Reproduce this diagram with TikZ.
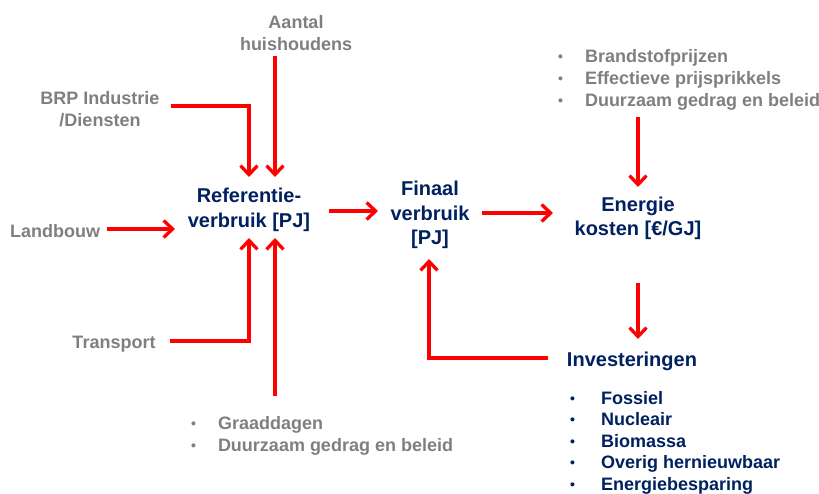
\documentclass[tikz,border=0pt]{standalone}
\usepackage{fontspec}
\setmainfont{Liberation Sans}
\usetikzlibrary{arrows.meta,calc}
\definecolor{txtgray}{RGB}{127,127,127}
\definecolor{navy}{RGB}{0,32,96}
\definecolor{flowred}{RGB}{255,0,0}
\tikzset{
  driver/.style={text=txtgray, font=\bfseries\fontsize{18}{22}\selectfont, align=center, inner sep=0pt, outer sep=0pt},
  quantity/.style={text=navy, font=\bfseries\fontsize{20}{24.5}\selectfont, align=center, inner sep=0pt, outer sep=0pt},
  graylist/.style={text=txtgray, font=\bfseries\fontsize{18}{22}\selectfont, align=left, inner sep=0pt, outer sep=0pt, anchor=west},
  navylist/.style={text=navy, font=\bfseries\fontsize{18}{21.5}\selectfont, align=left, inner sep=0pt, outer sep=0pt, anchor=west},
  flow/.style={draw=flowred, line width=3.3pt, line join=miter,
    -{Straight Barb[length=9pt,width=17pt]}},
}
\newcommand{\itm}[2][27pt]{\makebox[#1][l]{\fontsize{14}{14}\selectfont\raisebox{1pt}{•}}#2}
\begin{document}
\begin{tikzpicture}[x=1pt,y=-1pt]
\useasboundingbox (0,0) rectangle (819,493);

% central quantities
\node[quantity] (ref)     at (249,210)   {Referentie-\\verbruik {[PJ]}};
\node[quantity] (finaal)  at (430,215)   {Finaal\\verbruik\\{}{[PJ]}};
\node[quantity] (energie) at (638,218.5) {Energie\\kosten {[€/GJ]}};
\node[quantity] (invest)  at (632,361)   {Investeringen};

% drivers
\node[driver] (aantal)    at (296,33)    {Aantal\\huishoudens};
\node[driver] (brp)       at (100,109.5) {BRP Industrie\\/Diensten};
\node[driver] (landbouw)  at (55,231)    {Landbouw};
\node[driver] (transport) at (114,344)   {Transport};

% bullet lists
\node[graylist] (prijs) at (558,80)
  {\itm{Brandstofprijzen}\\\itm{Effectieve prijsprikkels}\\\itm{Duurzaam gedrag en beleid}};
\node[graylist] (graad) at (191,436)
  {\itm{Graaddagen}\\\itm{Duurzaam gedrag en beleid}};
\node[navylist] (opties) at (570,442.5)
  {\itm[31pt]{Fossiel}\\\itm[31pt]{Nucleair}\\\itm[31pt]{Biomassa}\\\itm[31pt]{Overig hernieuwbaar}\\\itm[31pt]{Energiebesparing}};

% inputs into the reference consumption
\draw[flow] ($(aantal)+(-21,23)$) -- ($(ref)+(26,-33)$);
\draw[flow] ($(brp.east)+(11,-3.5)$) -| ($(ref)+(0,-33)$);
\draw[flow] ($(landbouw.east)+(7,-2)$) -- ($(ref)+(-74,19)$);
\draw[flow] ($(transport.east)+(14,-3)$) -| ($(ref)+(0,28)$);
\draw[flow] ($(graad.west)+(84,-40)$) -- ($(ref)+(26,28)$);

% main chain
\draw[flow] ($(ref)+(80,1)$) -- ($(finaal)+(-52,-4)$);
\draw[flow] ($(finaal)+(52,-2)$) -- ($(energie)+(-85,-5.5)$);
\draw[flow] ($(prijs.west)+(80,37)$) -- ($(energie)+(0,-31.5)$);
\draw[flow] ($(energie)+(0,64.5)$) -- ($(invest)+(6,-22)$);
\draw[flow] ($(invest.west)+(-19,-3)$) -| ($(finaal)+(-1,44)$);
\end{tikzpicture}
\end{document}
